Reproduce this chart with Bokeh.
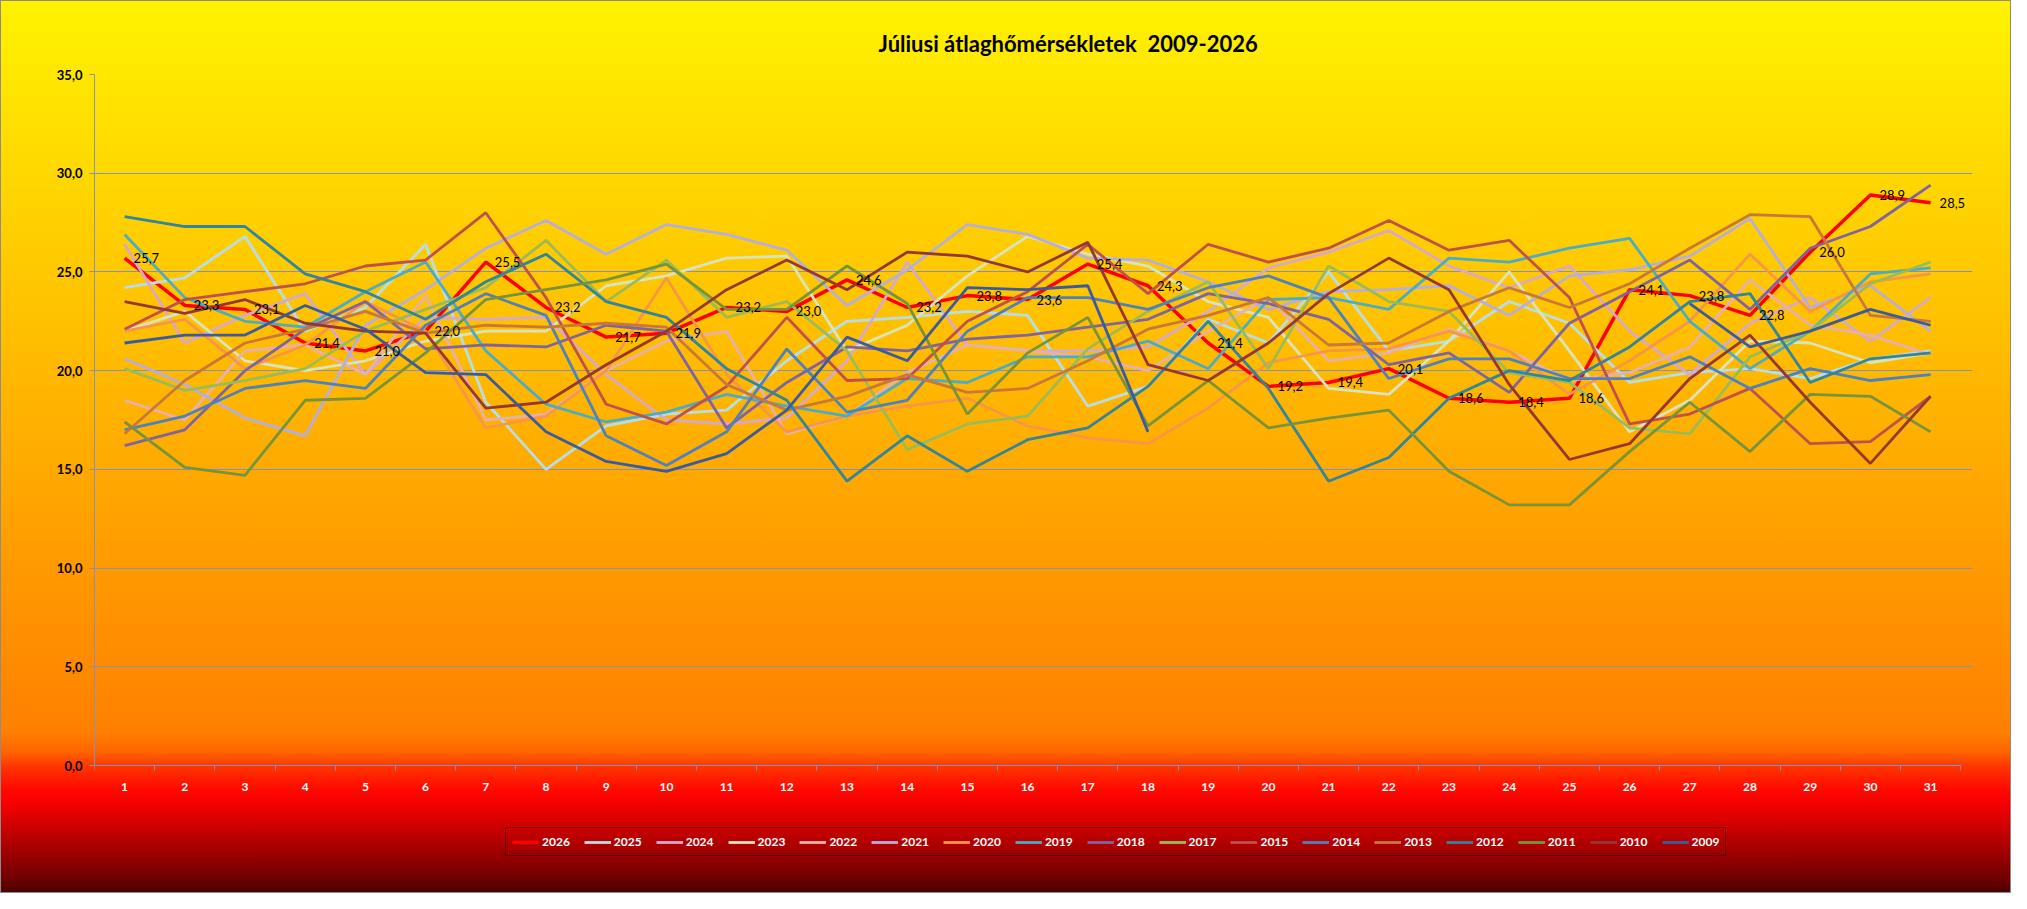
import math
from bokeh.plotting import figure
from bokeh.models import (ColumnDataSource, Range1d, FixedTicker, LabelSet,
                          Legend, LegendItem, InlineStyleSheet)
from bokeh.embed import file_html
from bokeh.resources import INLINE
from bokeh.core.properties import value

NaN = float("nan")

days = list(range(1, 32))
y_ticks = [0, 5, 10, 15, 20, 25, 30, 35]
y_tick_labels = ["0,0", "5,0", "10,0", "15,0", "20,0", "25,0", "30,0", "35,0"]
title_text = "Júliusi átlaghőmérsékletek  2009-2026"

t2026 = [25.7, 23.3, 23.1, 21.4, 21.0, 22.0, 25.5, 23.2, 21.7, 21.9, 23.2, 23.0, 24.6, 23.2, 23.8, 23.6,
         25.4, 24.3, 21.4, 19.2, 19.4, 20.1, 18.6, 18.4, 18.6, 24.1, 23.8, 22.8, 26.0, 28.9, 28.5]
t2025 = [24.2, 24.7, 26.8, 22.0, 23.2, 26.4, 18.4, 15.0, 17.2, 17.8, 18.0, 20.5, 22.5, 22.7, 23.0, 22.8,
         18.2, 19.2, 22.6, 21.4, 25.0, 21.0, 21.5, 23.5, 22.4, 19.4, 19.9, 20.1, 19.6, 20.6, 21.0]
t2024 = [26.4, 21.4, 22.8, 23.9, 19.8, 22.7, 22.6, 22.7, 19.8, 17.5, 17.3, 17.6, 20.5, 25.5, 21.3, 21.0,
         21.0, 21.2, 23.0, 25.2, 26.0, 27.1, 25.3, 24.2, 25.3, 22.0, 19.8, 22.4, 23.7, 21.5, 23.7]
t2023 = [22.0, 23.0, 20.5, 20.0, 20.5, 21.5, 22.0, 22.0, 24.3, 24.8, 25.7, 25.8, 21.0, 22.3, 24.8, 26.8,
         25.9, 25.3, 23.5, 22.7, 19.1, 18.8, 21.5, 25.0, 21.0, 16.9, 18.5, 21.5, 21.4, 20.4, 20.9]
t2022 = [18.5, 17.5, 21.0, 21.3, 19.8, 23.8, 17.5, 17.8, 20.0, 21.5, 22.0, 16.8, 17.7, 19.9, 21.3, 21.0,
         20.7, 20.0, 22.0, 23.7, 20.5, 20.9, 22.1, 21.0, 19.5, 19.9, 21.2, 24.6, 22.3, 21.8, 20.8]
t2021 = [20.6, 19.3, 17.6, 16.7, 22.3, 24.1, 26.2, 27.6, 25.9, 27.4, 26.9, 26.1, 23.3, 25.1, 27.4, 26.9,
         25.7, 25.6, 24.5, 23.1, 24.0, 24.1, 24.3, 22.8, 24.8, 25.1, 25.8, 27.7, 23.2, 24.3, 22.0]
t2020 = [22.0, 22.6, 20.1, 21.3, 23.5, 22.0, 17.1, 17.7, 20.0, 24.7, 19.8, 16.9, 17.7, 18.2, 18.6, 17.2,
         16.6, 16.3, 18.1, 20.4, 21.0, 21.1, 22.0, 21.0, 18.8, 20.5, 22.5, 25.9, 23.0, 24.5, 24.9]
t2019 = [26.9, 23.7, 22.5, 22.2, 24.0, 25.5, 21.0, 18.3, 17.4, 17.9, 18.8, 18.2, 17.7, 19.6, 19.4, 20.7,
         20.7, 21.5, 20.1, 23.6, 23.7, 23.1, 25.7, 25.5, 26.2, 26.7, 22.5, 20.1, 22.0, 24.9, 25.2]
t2018 = [16.2, 17.0, 20.0, 22.1, 23.5, 21.1, 21.3, 21.2, 22.3, 22.0, 17.1, 19.4, 21.2, 21.0, 21.6, 21.8,
         22.2, 22.6, 23.9, 23.4, 22.6, 20.3, 20.9, 18.9, 22.4, 24.0, 25.6, 23.1, 26.2, 27.3, 29.4]
t2017 = [20.1, 19.0, 19.5, 20.1, 22.0, 23.1, 24.2, 26.6, 23.5, 25.6, 22.7, 23.5, 21.0, 16.0, 17.3, 17.7,
         21.1, 23.0, 24.5, 20.1, 25.3, 23.5, 23.0, 19.9, 19.4, 17.1, 16.8, 20.7, 22.0, 24.4, 25.5]
t2015 = [22.1, 23.6, 24.0, 24.4, 25.3, 25.6, 28.0, 23.7, 18.3, 17.3, 19.2, 22.7, 19.5, 19.6, 22.5, 24.0,
         26.4, 23.9, 26.4, 25.5, 26.2, 27.6, 26.1, 26.6, 23.7, 17.3, 17.8, 19.1, 16.3, 16.4, 18.7]
t2014 = [17.0, 17.7, 19.1, 19.5, 19.1, 22.3, 23.9, 22.8, 16.7, 15.2, 16.9, 21.1, 17.9, 18.5, 22.0, 23.7,
         23.7, 23.1, 24.2, 24.8, 23.7, 19.6, 20.6, 20.6, 19.6, 19.6, 20.7, 19.1, 20.1, 19.5, 19.8]
t2013 = [16.8, 19.5, 21.4, 22.1, 23.0, 21.9, 22.3, 22.2, 22.4, 22.2, 19.3, 18.0, 18.7, 19.8, 18.9, 19.1,
         20.5, 22.1, 22.8, 23.7, 21.3, 21.4, 23.0, 24.2, 23.2, 24.4, 26.2, 27.9, 27.8, 22.8, 22.5]
t2012 = [27.8, 27.3, 27.3, 24.9, 24.0, 22.6, 24.5, 25.9, 23.5, 22.7, 20.1, 18.5, 14.4, 16.7, 14.9, 16.5,
         17.1, 19.2, 22.5, 19.1, 14.4, 15.6, 18.6, 20.0, 19.5, 21.2, 23.5, 23.9, 19.4, 20.6, 20.9]
t2011 = [17.4, 15.1, 14.7, 18.5, 18.6, 20.9, 23.6, 24.1, 24.6, 25.4, 23.1, 23.1, 25.3, 23.4, 17.8, 20.9,
         22.7, 17.2, 19.5, 17.1, 17.6, 18.0, 14.9, 13.2, 13.2, 15.9, 18.4, 15.9, 18.8, 18.7, 16.9]
t2010 = [23.5, 22.9, 23.6, 22.4, 22.0, 21.9, 18.1, 18.4, 20.3, 22.0, 24.1, 25.6, 24.1, 26.0, 25.8, 25.0,
         26.5, 20.3, 19.5, 21.4, 23.9, 25.7, 24.1, 19.3, 15.5, 16.3, 19.6, 21.8, 18.4, 15.3, 18.7]
t2009 = [21.4, 21.8, 21.8, 23.3, 22.1, 19.9, 19.8, 16.9, 15.4, 14.9, 15.8, 18.0, 21.7, 20.5, 24.2, 24.1,
         24.3, 16.9, NaN, NaN, NaN, NaN, NaN, NaN, NaN, NaN, 23.4, 21.2, 22.0, 23.1, 22.3]

series = [
    ("2026", t2026, "#FF0000"),
    ("2025", t2025, "#B7DEE8"),
    ("2024", t2024, "#D5A9CC"),
    ("2023", t2023, "#D7E4BD"),
    ("2022", t2022, "#E6B0AE"),
    ("2021", t2021, "#B6AEDB"),
    ("2020", t2020, "#F79646"),
    ("2019", t2019, "#4BACC6"),
    ("2018", t2018, "#8064A2"),
    ("2017", t2017, "#9BBB59"),
    ("2015", t2015, "#C0504D"),
    ("2014", t2014, "#4F81BD"),
    ("2013", t2013, "#C8783A"),
    ("2012", t2012, "#31859C"),
    ("2011", t2011, "#77933C"),
    ("2010", t2010, "#953735"),
    ("2009", t2009, "#3A5C9E"),
]

FONT = "Lato"
GRID = "#8192C2"

W, H = 2011, 893
# frame: left 94, top 74, right 1972, bottom 858 ; y=0 lies at 765, y=35 at 74
PX_PER_UNIT = (765 - 74) / 35.0
Y_MIN = -(858 - 765) / PX_PER_UNIT
PX_PER_DAY = 60.2
X_MAX = 0.5 + (1972 - 94) / PX_PER_DAY

p = figure(width=W, height=H, output_backend="svg", toolbar_location=None,
           x_range=Range1d(0.5, X_MAX), y_range=Range1d(Y_MIN, 35),
           min_border_left=94, min_border_right=W - 1972, min_border_top=74,
           min_border_bottom=H - 858)

grad = ("linear-gradient(to bottom, #FFF300 0px, #FF8000 732px, #FF6400 752px, #FF3400 767px, "
        "#FF0800 790px, #F80000 802px, #D20000 824px, #A00000 852px, #6C0000 880px, #480000 893px)")
p.styles = {"background": grad}
p.stylesheets = [InlineStyleSheet(css=":host { background: " + grad + "; box-shadow: inset 0 0 0 1px #8c8c8c; }")]
p.background_fill_alpha = 0
p.border_fill_alpha = 0
p.outline_line_color = None

p.title.text = title_text.replace("  ", " \u00a0")
p.title.align = "left"
p.title.text_font = FONT
p.title.text_font_size = "22px"
p.title.text_font_style = "bold"
p.title.text_color = "#000000"
p.title.offset = 784
p.title.standoff = 36

# x axis drawn at y = 0
p.xaxis.fixed_location = 0
p.xaxis.bounds = (0.5, 31.5)
p.xaxis.ticker = FixedTicker(ticks=days, minor_ticks=[d - 0.5 for d in days] + [31.5])
p.xaxis.major_tick_line_color = None
p.xaxis.major_tick_out = 0
p.xaxis.major_tick_in = 0
p.xaxis.minor_tick_line_color = GRID
p.xaxis.minor_tick_out = 5
p.xaxis.minor_tick_in = 0
p.xaxis.axis_line_color = GRID
p.xaxis.major_label_text_color = "#FFFFFF"
p.xaxis.major_label_text_font = FONT
p.xaxis.major_label_text_font_style = "bold"
p.xaxis.major_label_text_font_size = "12px"
p.xaxis.major_label_standoff = 12

p.yaxis.bounds = (0, 35)
p.yaxis.ticker = FixedTicker(ticks=y_ticks)
p.yaxis.major_label_overrides = {t: s for t, s in zip(y_ticks, y_tick_labels)}
p.yaxis.minor_tick_line_color = None
p.yaxis.major_tick_line_color = GRID
p.yaxis.major_tick_out = 5
p.yaxis.major_tick_in = 0
p.yaxis.axis_line_color = GRID
p.yaxis.major_label_text_color = "#000000"
p.yaxis.major_label_text_font = FONT
p.yaxis.major_label_text_font_style = "bold"
p.yaxis.major_label_text_font_size = "13px"
p.yaxis.major_label_standoff = 7

p.xgrid.grid_line_color = None
p.ygrid.ticker = FixedTicker(ticks=y_ticks[1:])
p.ygrid.grid_line_color = GRID
p.ygrid.grid_line_width = 1

items = []
for name, vals, col in series:
    src = ColumnDataSource(dict(x=days, y=vals))
    lw = 3.5 if name == "2026" else 2.8
    r = p.line("x", "y", source=src, line_color=col, line_width=lw)
    items.append(LegendItem(label=name, renderers=[r]))

lab_src = ColumnDataSource(dict(x=days, y=t2026,
                                txt=[f"{v:.1f}".replace(".", ",") for v in t2026]))
labels = LabelSet(x="x", y="y", text="txt", source=lab_src, x_offset=9, y_offset=0,
                  text_baseline="middle", text_align="left", text_font=value(FONT),
                  text_font_size="13px", text_color="#000000")
p.add_layout(labels)

legend = Legend(items=items, orientation="horizontal", location=(411, 2),
                glyph_width=27, glyph_height=12, label_standoff=3, spacing=14,
                padding=6, margin=0, label_height=12,
                label_text_color="#FFFFFF", label_text_font=FONT,
                label_text_font_style="bold", label_text_font_size="12px",
                background_fill_alpha=0, border_line_color="#000000", border_line_width=1.5)
p.add_layout(legend)

open("out.html", "w").write(file_html(p, INLINE))
